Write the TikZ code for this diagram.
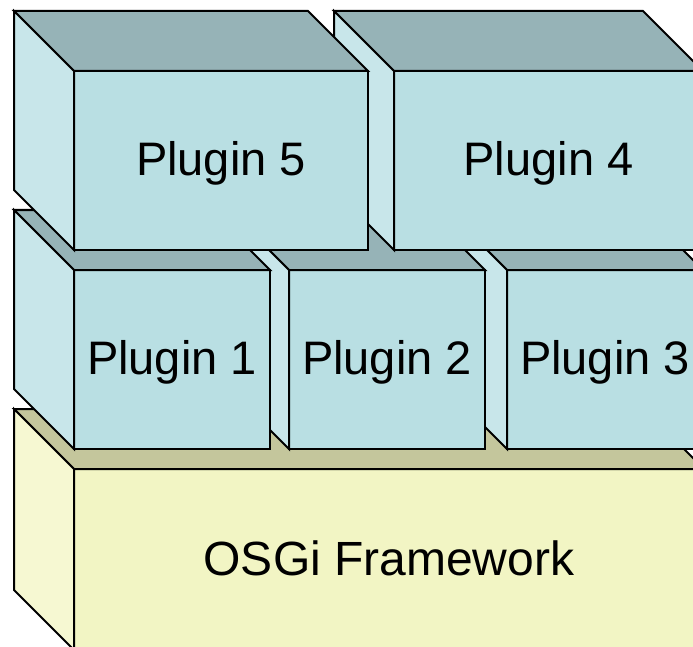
\documentclass[tikz,border=0pt]{standalone}
\usepackage{fontspec}
\setmainfont{Liberation Sans}
\usetikzlibrary{positioning}
\definecolor{plugfront}{RGB}{185,223,227}
\definecolor{plugtop}{RGB}{150,179,183}
\definecolor{plugside}{RGB}{200,230,234}
\definecolor{fwfront}{RGB}{242,245,196}
\definecolor{fwtop}{RGB}{196,198,156}
\definecolor{fwside}{RGB}{246,248,210}
\tikzset{edge/.style={draw=black, line width=2pt}}
\tikzset{cube/.style args = {(#1,#2,#3)}{%
		edge, fill=#1, minimum width=#2, minimum height=#3, inner sep=0pt, outer sep=0pt,
		anchor=north west, text depth=.35em, font=\fontsize{47}{56}\selectfont}}
% top and left faces of a box, pushed back by 60 units
\newcommand{\boxsides}[3]{%
	\filldraw[edge, fill=#2] (#1.north west) -- ++(-60,-60) -- ([shift={(-60,-60)}]#1.north east) -- (#1.north east) -- cycle;
	\filldraw[edge, fill=#3] (#1.north west) -- ++(-60,-60) -- ([shift={(-60,-60)}]#1.south west) -- (#1.south west) -- cycle;}

\begin{document}
\begin{tikzpicture}[x=1pt, y=-1pt]
		\useasboundingbox (0,0) rectangle (693,647);
		\clip (0,0) rectangle (693,647);
		
		\node[cube={(fwfront,630pt,181pt)}, font=\fontsize{48}{58}\selectfont] (fw) at (74,469) {OSGi Framework};
		\boxsides{fw}{fwtop}{fwside}
		
		% lower row, back to front
		\node[cube={(plugfront,196pt,179pt)}] (p3) at (507,270) {Plugin 3};
		\boxsides{p3}{plugtop}{plugside}
		\node[cube={(plugfront,196pt,179pt)}, left=22pt of p3] (p2) {Plugin 2};
		\boxsides{p2}{plugtop}{plugside}
		\node[cube={(plugfront,196pt,179pt)}, left=19pt of p2] (p1) {Plugin 1};
		\boxsides{p1}{plugtop}{plugside}
		
		% upper row
		\node[cube={(plugfront,309pt,179pt)}] (p4) at (394,71) {Plugin 4};
		\boxsides{p4}{plugtop}{plugside}
		\node[cube={(plugfront,294pt,179pt)}, left=26pt of p4] (p5) {Plugin 5};
		\boxsides{p5}{plugtop}{plugside}
\end{tikzpicture}
\end{document}
